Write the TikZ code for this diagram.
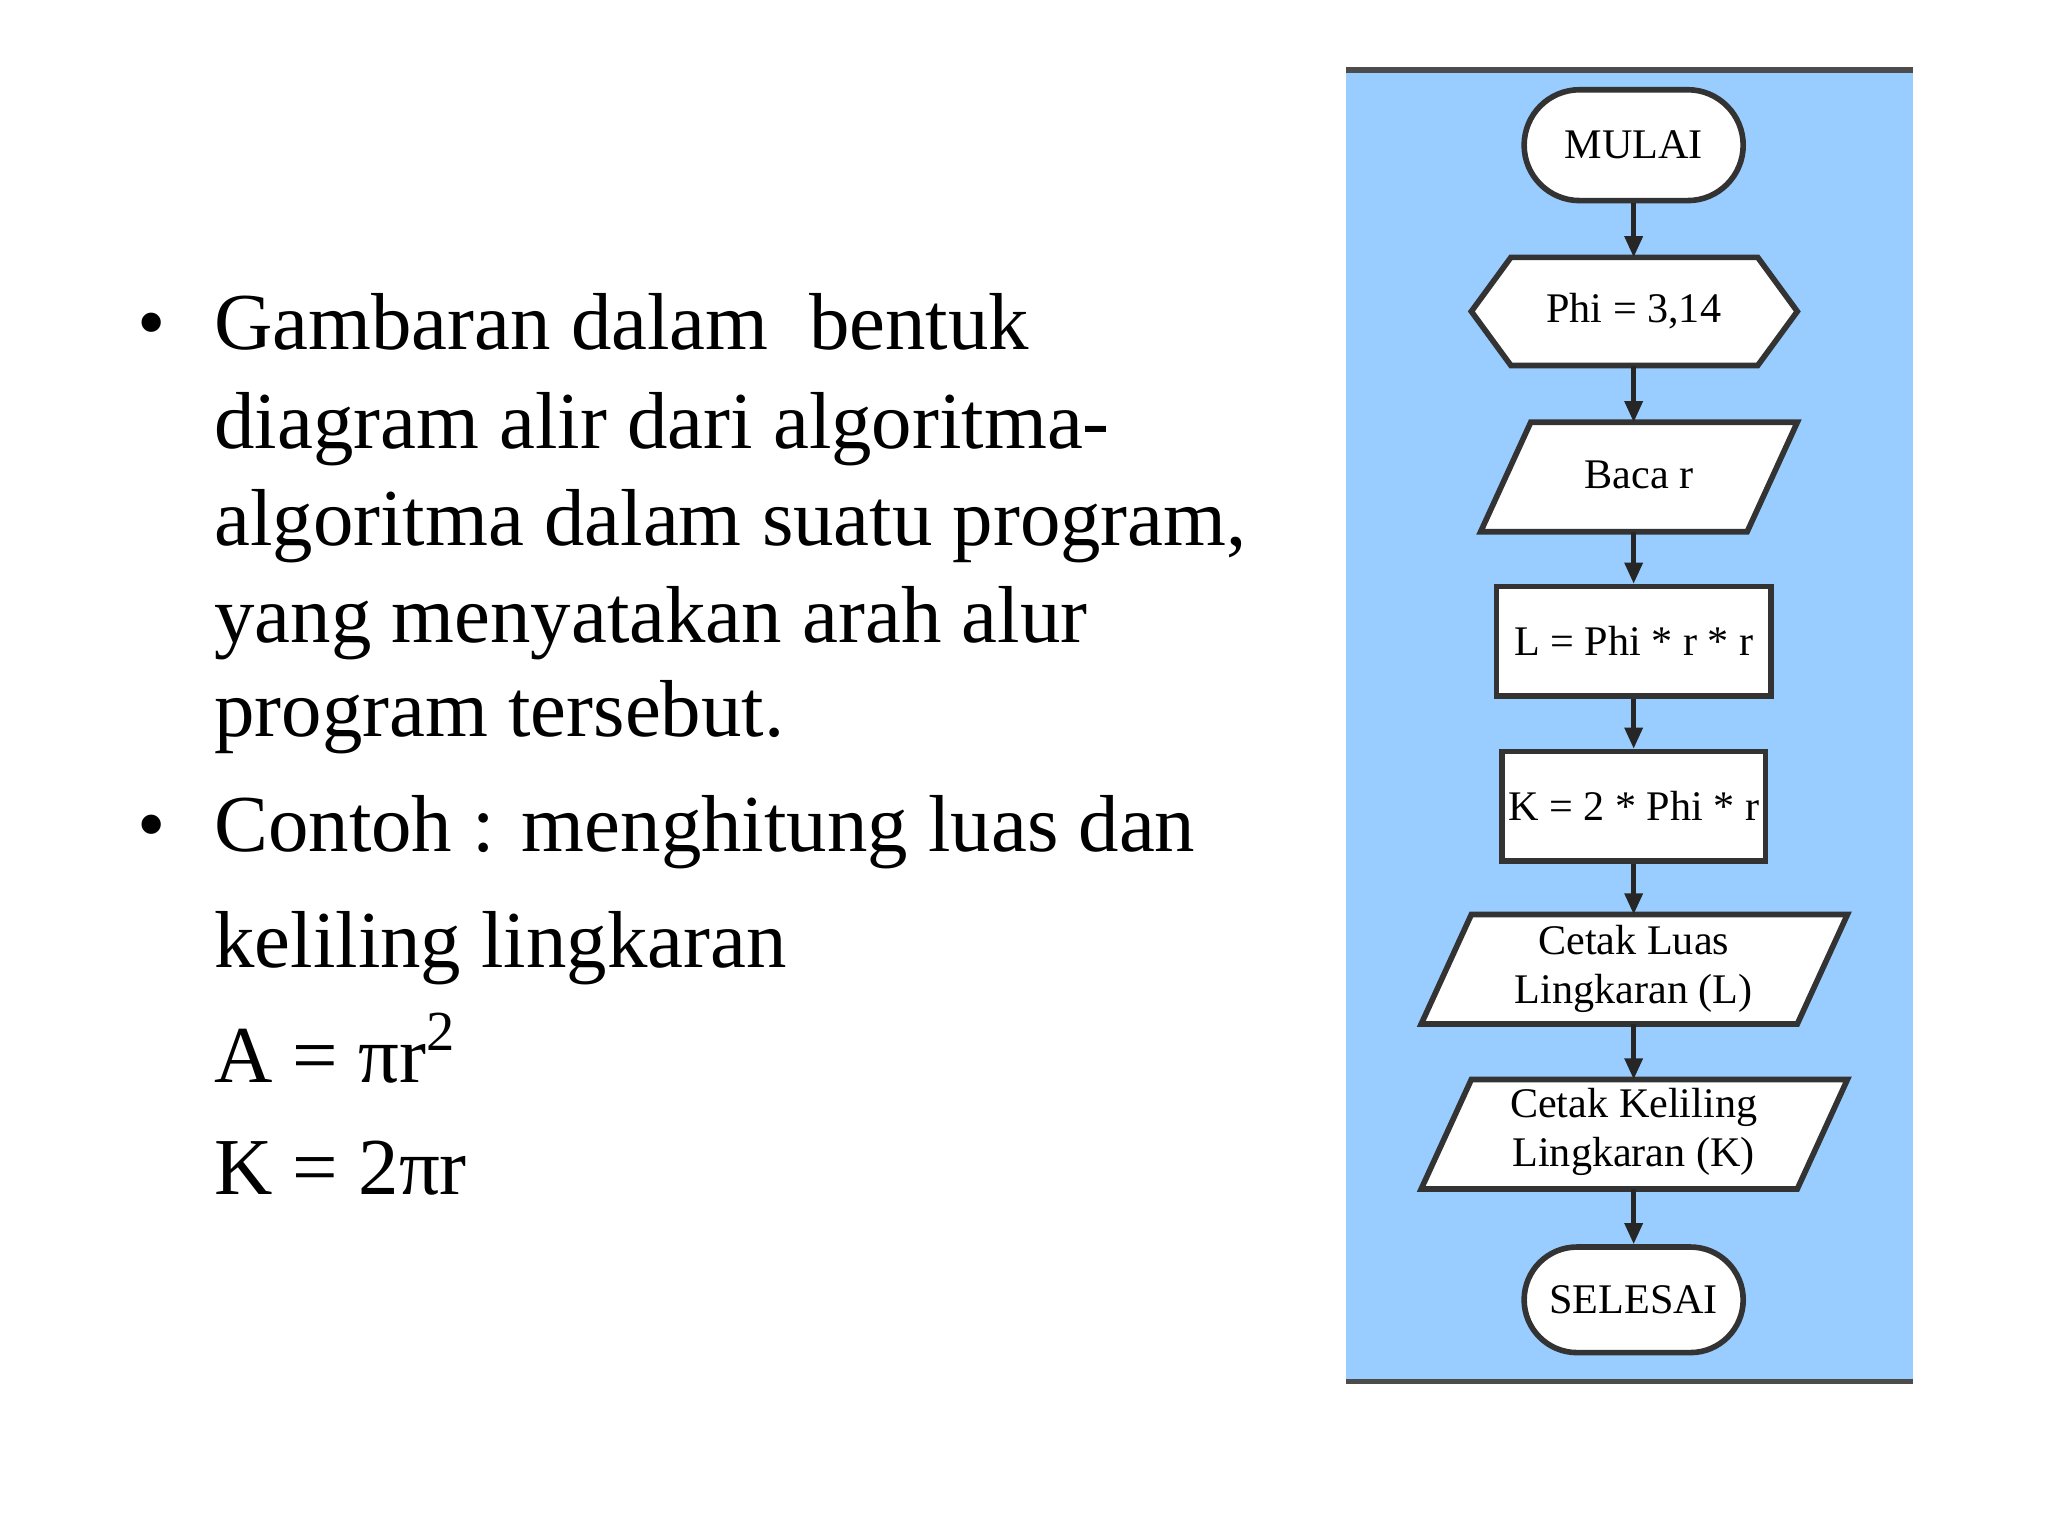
\documentclass[tikz,border=0pt]{standalone}
\usepackage{fontspec}
\setmainfont{Liberation Serif}
\usetikzlibrary{shapes.geometric,shapes.misc,arrows.meta}
\definecolor{panel}{RGB}{153,204,255}
\begin{document}
\begin{tikzpicture}[x=0.0132cm,y=-0.0132cm,
  box/.style={draw=black!80,line width=1.6pt,fill=white,font=\fontsize{12}{13}\selectfont,align=center,inner sep=0pt},
  arr/.style={-{Triangle[length=6pt,width=5pt]},line width=1.3pt,black!85},
  btxt/.style={anchor=base west,font=\fontsize{23}{27}\selectfont}]
\useasboundingbox (0,0) rectangle (1552,1164);
\fill[white] (0,0) rectangle (1552,1164);
\fill[panel] (1020,53) rectangle (1450,1047);
\draw[black!70,line width=1.5pt] (1020,53)--(1450,53);
\draw[black!70,line width=1.5pt] (1020,1047)--(1450,1047);
% text
\node[btxt] (b1) at (95,265) {•};
\node[btxt] (t1) at (153,265) {Gambaran dalam\ \ bentuk};
\node[btxt] (t2) at (153,340) {diagram alir dari algoritma-};
\node[btxt] (t3) at (153,413) {algoritma dalam suatu program,};
\node[btxt] (t4) at (153,487) {yang menyatakan arah alur};
\node[btxt] (t5) at (153,558) {program tersebut.};
\node[btxt] (b2) at (95,645) {•};
\node[btxt] (t6) at (153,645) {Contoh : menghitung luas dan};
\node[btxt] (t7) at (153,733) {keliling lingkaran};
\node[btxt] (t8) at (153,820) {A = πr\textsuperscript{2}};
\node[btxt] (t9) at (153,905) {K = 2πr};
% flowchart
\node[box,rounded rectangle,minimum width=166*0.0132cm,minimum height=84*0.0132cm] (m) at (1238,110) {MULAI};
\draw[box] (1115,236)--(1145,195)--(1332,195)--(1362,236)--(1332,277)--(1145,277)--cycle;
\node[font=\fontsize{12}{13}\selectfont] (p) at (1238,236) {Phi = 3,14};
\draw[box] (1160,320)--(1362,320)--(1324,403)--(1122,403)--cycle;
\node[font=\fontsize{12}{13}\selectfont] (b) at (1242,360) {Baca r};
\node[box,minimum width=208*0.0132cm,minimum height=83*0.0132cm] (l) at (1238,486) {L = Phi * r * r};
\node[box,minimum width=200*0.0132cm,minimum height=83*0.0132cm] (k) at (1238,611) {K = 2 * Phi * r};
\draw[box] (1115,693)--(1400,693)--(1362,776)--(1077,776)--cycle;
\node[font=\fontsize{12}{14}\selectfont,align=center] (cl) at (1238,734) {Cetak Luas\\Lingkaran (L)};
\draw[box] (1115,818)--(1400,818)--(1362,901)--(1077,901)--cycle;
\node[font=\fontsize{12}{14}\selectfont,align=center] (ck) at (1238,858) {Cetak Keliling\\Lingkaran (K)};
\node[box,rounded rectangle,minimum width=166*0.0132cm,minimum height=80*0.0132cm] (s) at (1238,985) {SELESAI};
\coordinate (a1) at (1238,152); \coordinate (a2) at (1238,195);
\coordinate (a3) at (1238,277); \coordinate (a4) at (1238,320);
\coordinate (a5) at (1238,403); \coordinate (a6) at (1238,693);
\coordinate (a7) at (1238,776); \coordinate (a8) at (1238,818);
\coordinate (a9) at (1238,901);
\draw[arr] (m.south)--(a2);
\draw[arr] (a3)--(a4);
\draw[arr] (a5)--(l.north);
\draw[arr] (l.south)--(k.north);
\draw[arr] (k.south)--(a6);
\draw[arr] (a7)--(a8);
\draw[arr] (a9)--(s.north);
\end{tikzpicture}
\end{document}
